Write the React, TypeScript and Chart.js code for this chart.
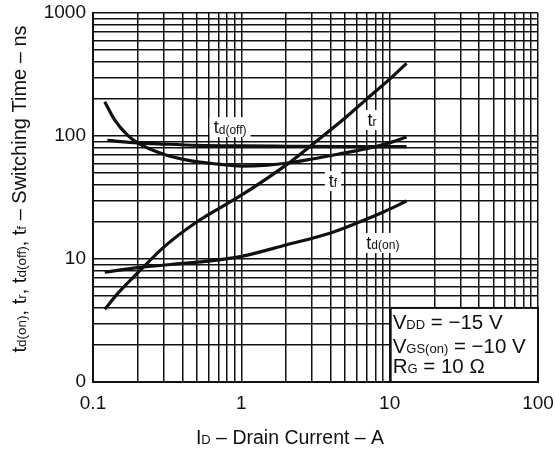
import React, { useEffect, useRef } from "react";
import { Chart, registerables } from "chart.js";
Chart.register(...registerables);

// ---- data (x: Drain current A, y: time ns) ----
const trX = [0.12, 0.15, 0.2, 0.3, 0.5, 1, 2, 3, 5, 7, 10, 13];
const trY = [3.9, 5.4, 7.7, 12.5, 20, 33, 58, 85, 140, 200, 290, 390];

const tfX = [0.12, 0.14, 0.17, 0.2, 0.3, 0.45, 0.7, 1, 1.5, 2, 3, 5, 7, 10, 13];
const tfY = [190, 135, 102, 88, 71, 63, 59, 57, 58, 60, 65, 73, 79, 88, 98];

const tdOffX = [0.125, 0.2, 0.3, 0.5, 1, 2, 5, 13];
const tdOffY = [92, 88, 86, 84, 83, 82.5, 82, 82];

const tdOnX = [0.12, 0.2, 0.4, 0.6, 1, 2, 4, 6, 9, 13];
const tdOnY = [7.8, 8.5, 9.2, 9.6, 10.5, 13, 16.3, 19.6, 24, 29.6];

const xTickValues = [0.1, 1, 10, 100];
const xTickLabels = ["0.1", "1", "10", "100"];
const yTickValues = [1, 10, 100, 1000];
const yTickLabels = ["0", "10", "100", "1000"];

const curveLabels = [
  { main: "t", sub: "d(off)", x: 0.84, y: 118 },
  { main: "t", sub: "r", x: 7.6, y: 135 },
  { main: "t", sub: "f", x: 4.15, y: 43 },
  { main: "t", sub: "d(on)", x: 9.0, y: 13.5 },
];

const conditions = [
  [["V", false], ["DD", true], [" = \u221215 V", false]],
  [["V", false], ["GS(on)", true], [" = \u221210 V", false]],
  [["R", false], ["G", true], [" = 10 \u03A9", false]],
] as [string, boolean][][];

const yTitle: [string, boolean][] = [
  ["t", false], ["d(on)", true], [", t", false], ["r", true], [", t", false],
  ["d(off)", true], [", t", false], ["f", true], [" \u2013 Switching Time \u2013 ns", false],
];
const xTitle: [string, boolean][] = [
  ["I", false], ["D", true], [" \u2013 Drain Current \u2013 A", false],
];

const FONT = "'Liberation Sans', Arial, sans-serif";

function gridValues(min: number, max: number): number[] {
  const out: number[] = [];
  for (let d = min; d < max * 0.999; d *= 10) {
    for (let k = 1; k <= 9; k++) out.push(+(d * k).toPrecision(6));
  }
  out.push(max);
  return out;
}

function richWidth(ctx: CanvasRenderingContext2D, parts: [string, boolean][], size: number, subSize: number) {
  let w = 0;
  for (const [t, s] of parts) {
    ctx.font = `${s ? subSize : size}px ${FONT}`;
    w += ctx.measureText(t).width;
  }
  return w;
}

function drawRich(ctx: CanvasRenderingContext2D, parts: [string, boolean][], x: number, y: number, size: number, subSize: number) {
  let cx = x;
  ctx.textBaseline = "alphabetic";
  ctx.textAlign = "left";
  for (const [t, s] of parts) {
    ctx.font = `${s ? subSize : size}px ${FONT}`;
    ctx.fillText(t, cx, s ? y + size * 0.02 : y);
    cx += ctx.measureText(t).width;
  }
}

const overlayPlugin = {
  id: "overlay",
  afterDraw(chart: any) {
    const ctx: CanvasRenderingContext2D = chart.ctx;
    const xs = chart.scales.x;
    const ys = chart.scales.y;
    const area = chart.chartArea;
    ctx.save();
    ctx.fillStyle = "#111";
    // curve labels
    for (const l of curveLabels) {
      const parts: [string, boolean][] = [[l.main, false], [l.sub, true]];
      const w = richWidth(ctx, parts, 18, 12);
      const px = xs.getPixelForValue(l.x);
      const py = ys.getPixelForValue(l.y);
      ctx.fillStyle = "#fff";
      ctx.fillRect(px - w / 2 - 4, py - 10, w + 8, 20);
      ctx.fillStyle = "#111";
      drawRich(ctx, parts, px - w / 2, py + 6, 18, 12);
    }
    // conditions box
    const bx = xs.getPixelForValue(10) + 1;
    const by = ys.getPixelForValue(4.0);
    ctx.fillStyle = "#fff";
    ctx.fillRect(bx, by, area.right - bx, area.bottom - by);
    ctx.strokeStyle = "#111";
    ctx.lineWidth = 2;
    ctx.strokeRect(bx, by, area.right - bx, area.bottom - by);
    ctx.fillStyle = "#111";
    const offs = [21, 45, 65];
    conditions.forEach((line, i) => {
      drawRich(ctx, line, bx + 2, by + offs[i], 20.5, 13);
    });
    // y title
    const yw = richWidth(ctx, yTitle, 20, 13.5);
    ctx.save();
    ctx.translate(26, 189);
    ctx.rotate(-Math.PI / 2);
    drawRich(ctx, yTitle, -yw / 2, 0, 20, 13.5);
    ctx.restore();
    // x title
    const xw = richWidth(ctx, xTitle, 19.5, 13);
    drawRich(ctx, xTitle, 290 - xw / 2, 444, 19.5, 13);
    ctx.restore();
  },
};

export default function App() {
  const ref = useRef<HTMLCanvasElement>(null);
  useEffect(() => {
    const mk = (xv: number[], yv: number[]) => xv.map((x, i) => ({ x, y: yv[i] }));
    const ds = (data: any) => ({
      data,
      borderColor: "#111",
      borderWidth: 3.2,
      pointRadius: 0,
      fill: false,
      cubicInterpolationMode: "monotone" as const,
    });
    const xGrid = gridValues(0.1, 100);
    const yGrid = gridValues(1, 1000);
    const chart = new Chart(ref.current!, {
      type: "line",
      data: {
        datasets: [
          ds(mk(trX, trY)),
          ds(mk(tfX, tfY)),
          ds(mk(tdOffX, tdOffY)),
          ds(mk(tdOnX, tdOnY)),
        ],
      },
      options: {
        responsive: false,
        animation: false,
        devicePixelRatio: 1,
        layout: { padding: { top: 13, right: 17, left: 0, bottom: 0 } },
        plugins: { legend: { display: false }, tooltip: { enabled: false } },
        scales: {
          x: {
            type: "logarithmic",
            min: 0.1,
            max: 100,
            afterBuildTicks: (s: any) => {
              s.ticks = xGrid.map((v) => ({ value: v }));
            },
            afterFit: (s: any) => {
              s.height = 74;
              s.paddingLeft = 0;
              s.paddingRight = 0;
            },
            ticks: {
              autoSkip: false,
              maxRotation: 0,
              padding: 10,
              color: "#111",
              font: { family: FONT, size: 19 },
              callback: (v: any) => {
                const i = xTickValues.findIndex((t) => Math.abs(t - v) < 1e-9 * t);
                return i >= 0 ? xTickLabels[i] : "";
              },
            },
            grid: { color: "#111", lineWidth: 1.5, drawTicks: false },
            border: { color: "#111", width: 2 },
          },
          y: {
            type: "logarithmic",
            min: 1,
            max: 1000,
            afterBuildTicks: (s: any) => {
              s.ticks = yGrid.map((v) => ({ value: v }));
            },
            afterFit: (s: any) => {
              s.width = 93;
              s.paddingTop = 0;
              s.paddingBottom = 0;
            },
            ticks: {
              autoSkip: false,
              padding: 7,
              color: "#111",
              font: { family: FONT, size: 19 },
              callback: (v: any) => {
                const i = yTickValues.findIndex((t) => Math.abs(t - v) < 1e-9 * t);
                return i >= 0 ? yTickLabels[i] : "";
              },
            },
            grid: { color: "#111", lineWidth: 1.5, drawTicks: false },
            border: { color: "#111", width: 2 },
          },
        },
      },
      plugins: [overlayPlugin],
    });
    return () => chart.destroy();
  }, []);
  return (
    <div style={{ position: "fixed", left: 0, top: 0, width: 555, height: 456, background: "#fff" }}>
      <canvas ref={ref} width={555} height={456} style={{ display: "block" }} />
    </div>
  );
}
